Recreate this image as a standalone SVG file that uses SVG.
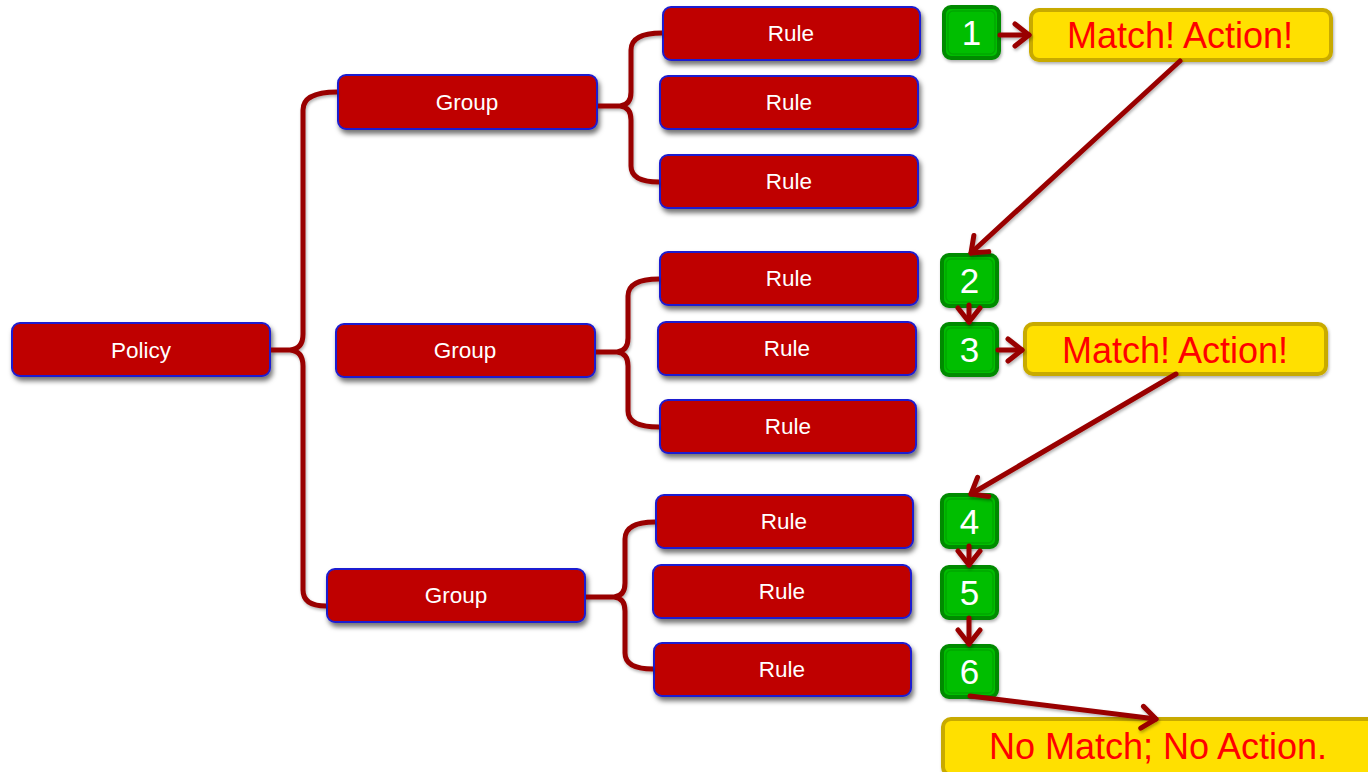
<svg xmlns="http://www.w3.org/2000/svg" width="1368" height="772" viewBox="0 0 1368 772">
<defs>
<filter id="sh" x="-10%" y="-20%" width="125%" height="160%">
<feDropShadow dx="2" dy="4" stdDeviation="2.5" flood-color="#000" flood-opacity="0.55"/>
</filter>
<filter id="sh2" x="-20%" y="-30%" width="140%" height="160%">
<feDropShadow dx="1" dy="2" stdDeviation="1.5" flood-color="#000" flood-opacity="0.3"/>
</filter>
<filter id="sh3" x="-20%" y="-20%" width="140%" height="140%">
<feDropShadow dx="1" dy="2" stdDeviation="1.5" flood-color="#000" flood-opacity="0.3"/>
</filter>
<marker id="ah" viewBox="-3 -14 20 28" refX="14" refY="0" markerWidth="20" markerHeight="28" markerUnits="userSpaceOnUse" orient="auto">
<path d="M0,-11 L14,0 L0,11" fill="none" stroke="#990000" stroke-width="5" stroke-linecap="round" stroke-linejoin="round"/>
</marker>
<style>
.red{fill:#BF0000;stroke:#1F1FD0;stroke-width:2;filter:url(#sh)}
.grn{fill:#00BE00;stroke:#008A00;stroke-width:4;filter:url(#sh2)}
.gin{fill:none;stroke:#00A800;stroke-width:1.5}
.yel{fill:#FFE000;stroke:#C8AA00;stroke-width:4;filter:url(#sh2)}
.lbl{font-family:"Liberation Sans",Arial,sans-serif;font-size:22.5px;fill:#fff;text-anchor:middle}
.num{font-family:"Liberation Sans",Arial,sans-serif;font-size:35px;fill:#fff;text-anchor:middle}
.msg{font-family:"Liberation Sans",Arial,sans-serif;font-size:36px;fill:#FF0000;text-anchor:middle}
.br{fill:none;stroke:#990000;stroke-width:5;stroke-linecap:butt;stroke-linejoin:round}
.ar{fill:none;stroke:#990000;stroke-width:5;stroke-linecap:round;marker-end:url(#ah)}
</style>
</defs>

<g id="policy"><rect class="red" x="12" y="323" width="258" height="53" rx="8"/><text class="lbl" x="141" y="358">Policy</text></g>

<g id="group1"><rect class="red" x="338" y="75" width="259" height="54" rx="8"/><text class="lbl" x="467" y="110">Group</text></g>
<g id="group2"><rect class="red" x="336" y="324" width="259" height="53" rx="8"/><text class="lbl" x="465" y="358">Group</text></g>
<g id="group3"><rect class="red" x="327" y="569" width="258" height="53" rx="8"/><text class="lbl" x="456" y="603">Group</text></g>

<g id="rule1"><rect class="red" x="663" y="7" width="257" height="53" rx="8"/><text class="lbl" x="791" y="41">Rule</text></g>
<g id="rule2"><rect class="red" x="660" y="76" width="258" height="53" rx="8"/><text class="lbl" x="789" y="110">Rule</text></g>
<g id="rule3"><rect class="red" x="660" y="155" width="258" height="53" rx="8"/><text class="lbl" x="789" y="189">Rule</text></g>
<g id="rule4"><rect class="red" x="660" y="252" width="258" height="53" rx="8"/><text class="lbl" x="789" y="286">Rule</text></g>
<g id="rule5"><rect class="red" x="658" y="322" width="258" height="53" rx="8"/><text class="lbl" x="787" y="356">Rule</text></g>
<g id="rule6"><rect class="red" x="660" y="400" width="256" height="53" rx="8"/><text class="lbl" x="788" y="434">Rule</text></g>
<g id="rule7"><rect class="red" x="656" y="495" width="257" height="53" rx="8"/><text class="lbl" x="784" y="529">Rule</text></g>
<g id="rule8"><rect class="red" x="653" y="565" width="258" height="53" rx="8"/><text class="lbl" x="782" y="599">Rule</text></g>
<g id="rule9"><rect class="red" x="654" y="643" width="257" height="53" rx="8"/><text class="lbl" x="782" y="677">Rule</text></g>

<g id="step1"><rect class="grn" x="944" y="7" width="55" height="51" rx="7"/><rect class="gin" x="948" y="11" width="47" height="43" rx="5"/><text class="num" x="971.5" y="45">1</text></g>
<g id="step2"><rect class="grn" x="942" y="255" width="55" height="51" rx="7"/><rect class="gin" x="946" y="259" width="47" height="43" rx="5"/><text class="num" x="969.5" y="293">2</text></g>
<g id="step3"><rect class="grn" x="942" y="324" width="55" height="51" rx="7"/><rect class="gin" x="946" y="328" width="47" height="43" rx="5"/><text class="num" x="969.5" y="362">3</text></g>
<g id="step4"><rect class="grn" x="942" y="495" width="55" height="52" rx="7"/><rect class="gin" x="946" y="499" width="47" height="44" rx="5"/><text class="num" x="969.5" y="534">4</text></g>
<g id="step5"><rect class="grn" x="942" y="567" width="55" height="51" rx="7"/><rect class="gin" x="946" y="571" width="47" height="43" rx="5"/><text class="num" x="969.5" y="605">5</text></g>
<g id="step6"><rect class="grn" x="942" y="646" width="55" height="51" rx="7"/><rect class="gin" x="946" y="650" width="47" height="43" rx="5"/><text class="num" x="969.5" y="684">6</text></g>

<g id="match1"><rect class="yel" x="1031" y="10" width="300" height="50" rx="8"/><text class="msg" x="1180" y="48">Match! Action!</text></g>
<g id="match2"><rect class="yel" x="1025" y="324" width="301" height="50" rx="8"/><text class="msg" x="1175" y="363">Match! Action!</text></g>
<g id="nomatch"><rect class="yel" x="943" y="719" width="440" height="56" rx="8"/><text class="msg" x="1158" y="759">No Match; No Action.</text></g>

<g id="connectors" filter="url(#sh3)">
<path class="br" d="M337,92 Q303,92 303,110 L303,334 Q303,349 290,350 L271,350 M290,350 Q303,351 303,366 L303,590 Q303,606 326,606"/>
<path class="br" d="M662,33 Q631,33 631,50 L631,92 Q631,105 620,106 L598,106 M620,106 Q631,107 631,120 L631,166 Q631,182 659,182"/>
<path class="br" d="M659,279 Q628,279 628,296 L628,338 Q628,351 617,352 L596,352 M617,352 Q628,353 628,366 L628,411 Q628,427 659,427"/>
<path class="br" d="M655,522 Q625,522 625,539 L625,583 Q625,596 614,597 L586,597 M614,597 Q625,598 625,611 L625,653 Q625,669 653,669"/>
<line class="ar" x1="1000" y1="35" x2="1029" y2="35"/>
<line class="ar" x1="1180" y1="61" x2="971" y2="253"/>
<line class="ar" x1="969" y1="305" x2="969" y2="322"/>
<line class="ar" x1="998" y1="350" x2="1022" y2="350"/>
<line class="ar" x1="1176" y1="374" x2="971" y2="494"/>
<line class="ar" x1="969" y1="546" x2="969" y2="565"/>
<line class="ar" x1="969" y1="618" x2="969" y2="644"/>
<line class="ar" x1="970" y1="696" x2="1156" y2="719"/>
</g>
</svg>
